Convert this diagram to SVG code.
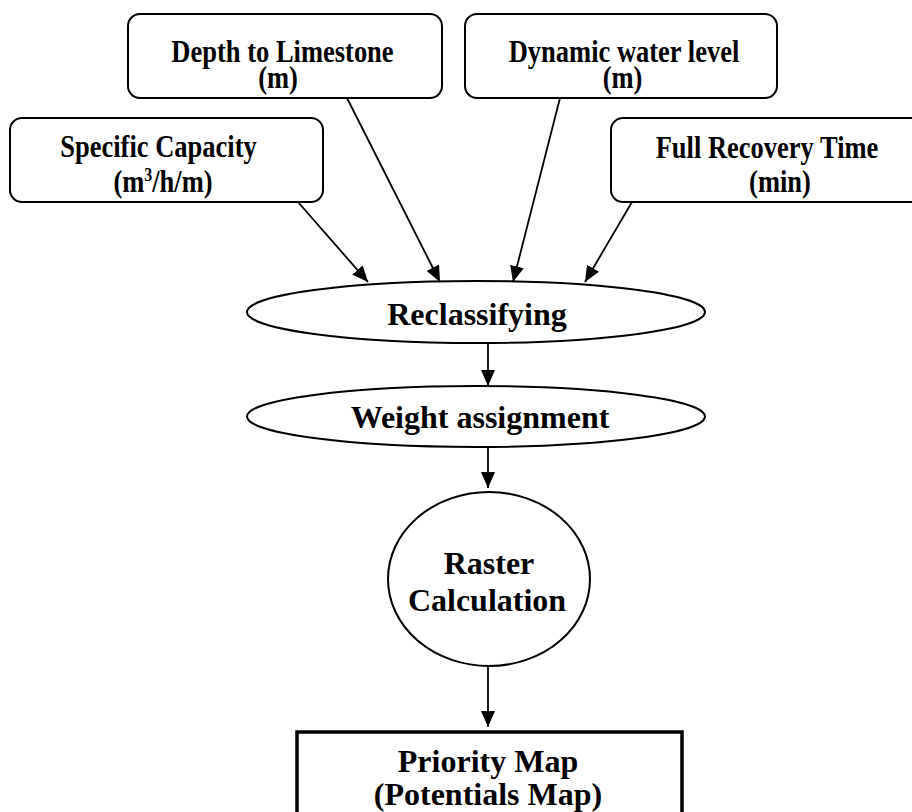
<svg xmlns="http://www.w3.org/2000/svg" width="912" height="812" viewBox="0 0 912 812">
  <defs>
    <marker id="arr" markerUnits="userSpaceOnUse" markerWidth="16" markerHeight="14" viewBox="0 0 16 14" refX="16" refY="7" orient="auto">
      <path d="M0,0 L16,7 L0,14 Z" fill="#000"/>
    </marker>
    <style>
      .box{fill:#fff;stroke:#000;stroke-width:2}
      .ell{fill:#fff;stroke:#000;stroke-width:2}
      .out{fill:#fff;stroke:#000;stroke-width:3.5}
      .t{font-family:"Liberation Serif","Times New Roman",serif;font-weight:bold;fill:#000;text-anchor:middle}
      .s{font-size:26.5px}
      .l{font-size:32px}
      .c{stroke:#000;stroke-width:1.8;fill:none;marker-end:url(#arr)}
    </style>
  </defs>
  <rect width="912" height="812" fill="#fff"/>

  <g id="depth">
    <rect class="box" x="128" y="14" width="314" height="84" rx="12"/>
    <text class="t s" transform="translate(282.5,62) scale(1,1.2)" x="0" y="0">Depth to Limestone</text>
    <text class="t s" transform="translate(278,88) scale(1,1.2)" x="0" y="0">(m)</text>
  </g>
  <g id="specific">
    <rect class="box" x="10" y="118" width="313" height="84" rx="12"/>
    <text class="t s" transform="translate(158.5,157) scale(1,1.2)" x="0" y="0">Specific Capacity</text>
    <text class="t s" transform="translate(163,192) scale(1,1.2)" x="0" y="0">(m<tspan dy="-9" font-size="16">3</tspan><tspan dy="9">/h/m)</tspan></text>
  </g>
  <g id="dynamic">
    <rect class="box" x="465" y="14" width="312" height="84" rx="12"/>
    <text class="t s" transform="translate(624,62) scale(1,1.2)" x="0" y="0">Dynamic water level</text>
    <text class="t s" transform="translate(622.5,88) scale(1,1.2)" x="0" y="0">(m)</text>
  </g>
  <g id="recovery">
    <rect class="box" x="611" y="118" width="313" height="84" rx="12"/>
    <text class="t s" transform="translate(767,158) scale(1,1.2)" x="0" y="0">Full Recovery Time</text>
    <text class="t s" transform="translate(780,192) scale(1,1.2)" x="0" y="0">(min)</text>
  </g>
  <g id="reclassifying">
    <ellipse class="ell" cx="476" cy="312" rx="229" ry="31"/>
    <text class="t l" x="477" y="325">Reclassifying</text>
  </g>
  <g id="weight">
    <ellipse class="ell" cx="476" cy="416.5" rx="229" ry="30.5"/>
    <text class="t l" x="480" y="428">Weight assignment</text>
  </g>
  <g id="raster">
    <ellipse class="ell" cx="489" cy="579" rx="101" ry="87"/>
    <text class="t l" x="489" y="574">Raster</text>
    <text class="t l" x="487" y="611">Calculation</text>
  </g>
  <g id="priority">
    <rect class="out" x="297" y="732" width="385" height="110"/>
    <text class="t l" x="488" y="772">Priority Map</text>
    <text class="t l" x="488" y="805">(Potentials Map)</text>
  </g>

  <g id="connectors">
    <line class="c" x1="298" y1="202" x2="368" y2="282"/>
    <line class="c" x1="347" y1="98" x2="440" y2="282"/>
    <line class="c" x1="560" y1="98" x2="513" y2="282"/>
    <line class="c" x1="632" y1="202" x2="585" y2="282"/>
    <line class="c" x1="488" y1="343" x2="488" y2="386"/>
    <line class="c" x1="488" y1="447" x2="488" y2="488"/>
    <line class="c" x1="488" y1="666" x2="488" y2="727"/>
  </g>
</svg>
